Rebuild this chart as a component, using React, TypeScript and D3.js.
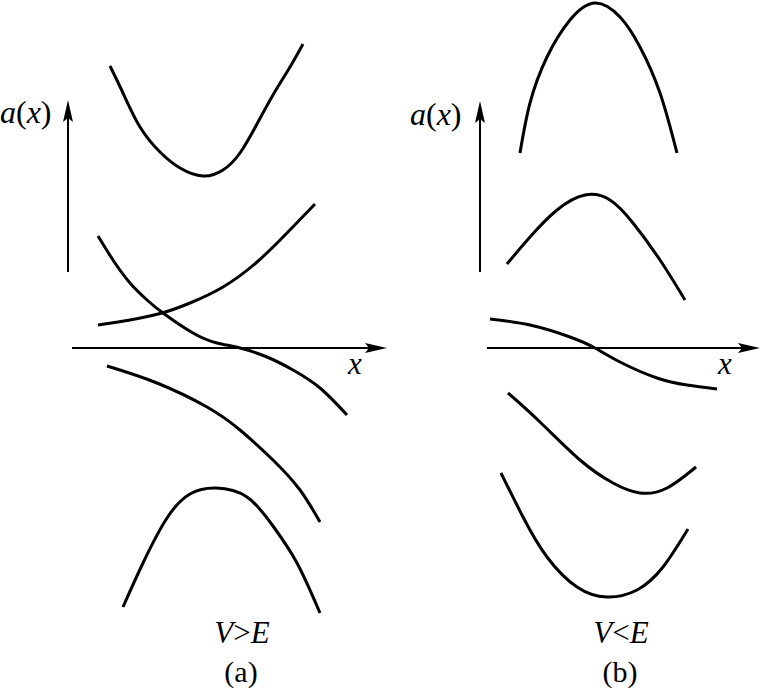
import React from "react";
import * as d3 from "d3";

type P = [number, number];

// Panel (a): V > E  (x offset from a-axis, a(x) value above x-axis)
const curveA1: P[] = [[42,282],[55,255],[72,221],[92,196],[112,180],[135,172],[155,178],[172,195],[189,224],[205,253],[222,281],[235,304]];
const curveA2: P[] = [[30,23],[62,28],[94,35],[122,45],[155,61],[189,86],[219,115],[247,144]];
const curveA3: P[] = [[30,112],[45,88],[62,65],[79,48],[95,35],[125,15],[149,5],[172,0],[199,-9],[225,-22],[252,-40],[279,-67]];
const curveA4: P[] = [[39,-18],[89,-35],[139,-59],[172,-82],[205,-112],[232,-142],[252,-174]];
const curveA5: P[] = [[55,-259],[75,-215],[99,-170],[122,-146],[148,-140],[179,-149],[205,-178],[229,-215],[252,-265]];

// Panel (b): V < E
const curveB1: P[] = [[40,195],[50,245],[67,291],[90,328],[115,345],[140,331],[160,301],[180,255],[197,195]];
const curveB2: P[] = [[27,84],[50,111],[77,138],[105,153],[130,148],[153,125],[180,88],[205,48]];
const curveB3: P[] = [[10,29],[50,23],[90,11],[115,0],[140,-14],[177,-30],[207,-37],[237,-41]];
const curveB4: P[] = [[28,-45],[60,-74],[100,-112],[133,-135],[160,-145],[187,-140],[216,-119]];
const curveB5: P[] = [[21,-125],[43,-169],[67,-209],[97,-239],[127,-249],[157,-242],[183,-219],[208,-181]];

const panels = [
  { key: "a", origin: 68, curves: [curveA1, curveA2, curveA3, curveA4, curveA5], yAxis: [76, 248], xAxis: [4, 319], condOp: ">", xLabelX: 280, aLabelDx: -68, aLabelY: 225, condX: 174, capX: 173 },
  { key: "b", origin: 480, curves: [curveB1, curveB2, curveB3, curveB4, curveB5], yAxis: [76, 247], xAxis: [7, 280], condOp: "<", xLabelX: 238, aLabelDx: -70, aLabelY: 223, condX: 141, capX: 140 },
];

const yScale = d3.scaleLinear().domain([-342, 348]).range([690, 0]);
const serif = "Liberation Serif, Times New Roman, serif";

export default function App() {
  React.useEffect(() => {
    document.body.style.margin = "0";
  }, []);
  return (
    <svg width={763} height={690} style={{ position: "absolute", left: 0, top: 0, background: "#fff" }}>
      {panels.map((p) => {
        const xScale = d3.scaleLinear().domain([0, 320]).range([p.origin, p.origin + 320]);
        const line = d3.line<P>().x((d) => xScale(d[0])).y((d) => yScale(d[1])).curve(d3.curveNatural);
        const ax = xScale(0);
        const yTop = yScale(p.yAxis[1]);
        const xEnd = xScale(p.xAxis[1]);
        const y0 = yScale(0);
        return (
          <g key={p.key}>
            <line x1={ax} x2={ax} y1={yScale(p.yAxis[0])} y2={yTop + 10} stroke="#000" strokeWidth={2} />
            <path d={`M${ax},${yTop} L${ax - 5},${yTop + 22} L${ax},${yTop + 18} L${ax + 5},${yTop + 22} Z`} fill="#000" />
            <line x1={xScale(p.xAxis[0])} x2={xEnd - 10} y1={y0} y2={y0} stroke="#000" strokeWidth={2} />
            <path d={`M${xEnd},${y0} L${xEnd - 22},${y0 - 5} L${xEnd - 18},${y0} L${xEnd - 22},${y0 + 5} Z`} fill="#000" />
            {p.curves.map((c, i) => (
              <path key={i} d={line(c) || ""} fill="none" stroke="#000" strokeWidth={3} />
            ))}
            <text x={ax + p.aLabelDx} y={yScale(p.aLabelY)} style={{ fontFamily: serif, fontSize: 32 }}>
              <tspan fontStyle="italic">a</tspan>(<tspan fontStyle="italic">x</tspan>)
            </text>
            <text x={xScale(p.xLabelX)} y={y0 + 26} style={{ fontFamily: serif, fontSize: 31, fontStyle: "italic" }}>x</text>
            <text x={xScale(p.condX)} y={643} textAnchor="middle" style={{ fontFamily: serif, fontSize: 31 }}>
              <tspan fontStyle="italic">V</tspan>{p.condOp}<tspan fontStyle="italic">E</tspan>
            </text>
            <text x={xScale(p.capX)} y={682} textAnchor="middle" style={{ fontFamily: serif, fontSize: 30 }}>({p.key})</text>
          </g>
        );
      })}
    </svg>
  );
}
